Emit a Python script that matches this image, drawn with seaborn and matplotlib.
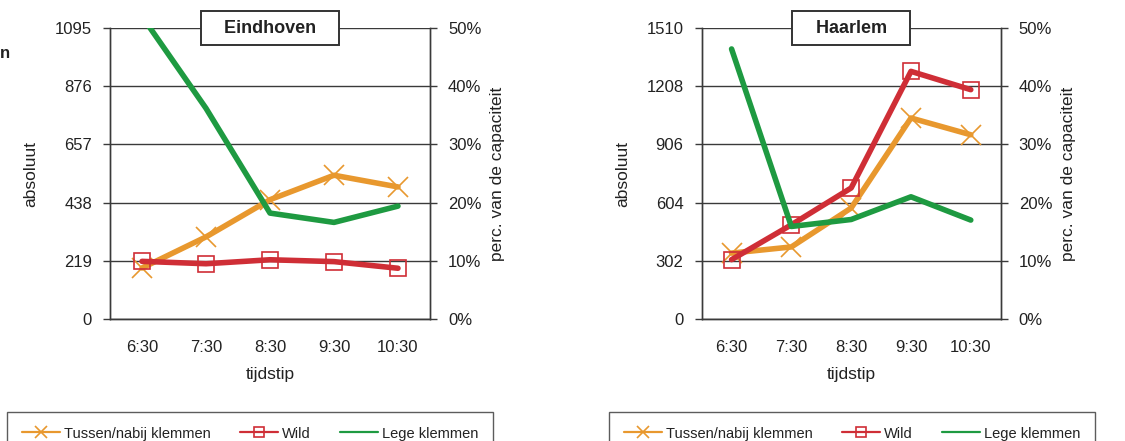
import seaborn as sns
import matplotlib.pyplot as plt
from matplotlib.lines import Line2D
from matplotlib.ticker import FuncFormatter

# tijdstippen (x-as)
times = ['6:30', '7:30', '8:30', '9:30', '10:30']
pos = list(range(len(times)))

# Eindhoven: absolute aantallen + lege klemmen in % van capaciteit
ehv_max = 1095
ehv_tussen = [192, 309, 449, 541, 497]
ehv_wild = [217, 208, 223, 216, 191]
ehv_leeg = [52.0, 36.2, 18.2, 16.6, 19.4]

# Haarlem
hlm_max = 1510
hlm_tussen = [342, 374, 576, 1043, 956]
hlm_wild = [308, 489, 680, 1285, 1190]
hlm_leeg = [46.4, 15.9, 17.1, 21.0, 17.0]

labels = ['Tussen/nabij klemmen', 'Wild', 'Lege klemmen']
c_orange = '#E8982E'
c_red = '#CF2E36'
c_green = '#1E9A41'
c_grid = '#3a3a3a'

sns.set_style('white')
plt.rcParams['font.family'] = ['Liberation Sans', 'DejaVu Sans']
plt.rcParams['font.size'] = 12
plt.rcParams['text.color'] = '#222222'
plt.rcParams['axes.labelcolor'] = '#222222'
plt.rcParams['xtick.color'] = '#222222'
plt.rcParams['ytick.color'] = '#222222'

fig = plt.figure(figsize=(11.25, 4.41), dpi=100)
ax_l = fig.add_axes([0.0978, 0.2766, 0.2844, 0.6599])
ax_r = fig.add_axes([0.6237, 0.2766, 0.2658, 0.6599])


def panel(ax, name, tussen, wild, leeg, ymax):
    ax2 = ax.twinx()
    sns.lineplot(x=pos, y=tussen, ax=ax, color=c_orange, lw=4, marker='x',
                 ms=14, mew=1.2, mec=c_orange, zorder=3)
    sns.lineplot(x=pos, y=wild, ax=ax, color=c_red, lw=4, marker='s',
                 ms=11, mew=1.2, mec=c_red, mfc='none', zorder=4)
    sns.lineplot(x=pos, y=leeg, ax=ax2, color=c_green, lw=4, zorder=3)

    ax.set_xlim(-0.5, 4.5)
    ax.set_ylim(0, ymax)
    ax2.set_ylim(0, 50)
    ax.set_yticks([ymax * i / 5 for i in range(6)])
    ax.set_yticklabels([str(round(ymax * i / 5)) for i in range(6)])
    ax2.set_yticks([0, 10, 20, 30, 40, 50])
    ax2.yaxis.set_major_formatter(FuncFormatter(lambda v, p: f'{v:.0f}%'))

    ax.set_xticks([i - 0.5 for i in range(6)])
    ax.set_xticklabels([])
    ax.set_xticks(pos, minor=True)
    ax.set_xticklabels(times, minor=True)
    ax.tick_params(axis='x', which='major', length=5, width=1, color=c_grid)
    ax.tick_params(axis='x', which='minor', length=0, pad=15)
    ax.tick_params(axis='y', length=5, width=1, color=c_grid, pad=8)
    ax2.tick_params(axis='y', length=5, width=1, color=c_grid, pad=8)

    ax.yaxis.grid(True, color=c_grid, lw=1)
    ax.set_axisbelow(True)
    for a in (ax, ax2):
        for s in a.spines.values():
            s.set_color(c_grid)
            s.set_linewidth(1)
        a.spines['top'].set_visible(False)

    ax.set_xlabel('tijdstip', fontsize=12.5, labelpad=9)
    ax.set_ylabel('absoluut', fontsize=12.5, labelpad=12)
    ax2.set_ylabel('perc. van de capaciteit', fontsize=12.5, labelpad=6)

    ax2.text(0.5, 1.0, '   ' + name + '   ', transform=ax.transAxes, ha='center',
             va='center', fontsize=13, fontweight='bold', zorder=10,
             bbox=dict(boxstyle='square,pad=0.45', fc='white', ec='#333333', lw=1.4))


panel(ax_l, 'Eindhoven', ehv_tussen, ehv_wild, ehv_leeg, ehv_max)
panel(ax_r, 'Haarlem', hlm_tussen, hlm_wild, hlm_leeg, hlm_max)

handles = [
    Line2D([], [], color=c_orange, lw=1.6, marker='x', ms=8, mew=1.2),
    Line2D([], [], color=c_red, lw=1.6, marker='s', ms=7, mew=1.2, mfc='none'),
    Line2D([], [], color=c_green, lw=1.6),
]
for x0 in (7 / 1125, 609 / 1125):
    leg = fig.legend(handles, labels, loc='upper left', bbox_to_anchor=(x0, 29 / 441),
                     ncol=3, frameon=True, fancybox=False, borderaxespad=0,
                     handlelength=2.6, handletextpad=0.3, columnspacing=2.0,
                     borderpad=1.0, fontsize=10.5)
    leg.get_frame().set_edgecolor('#333333')
    leg.get_frame().set_linewidth(1)

# afgesneden tekst links boven
fig.text(0.0, 1 - 53 / 441, 'n', fontsize=12, fontweight='bold', va='center', ha='left')

fig.savefig('out.png', dpi=100)
